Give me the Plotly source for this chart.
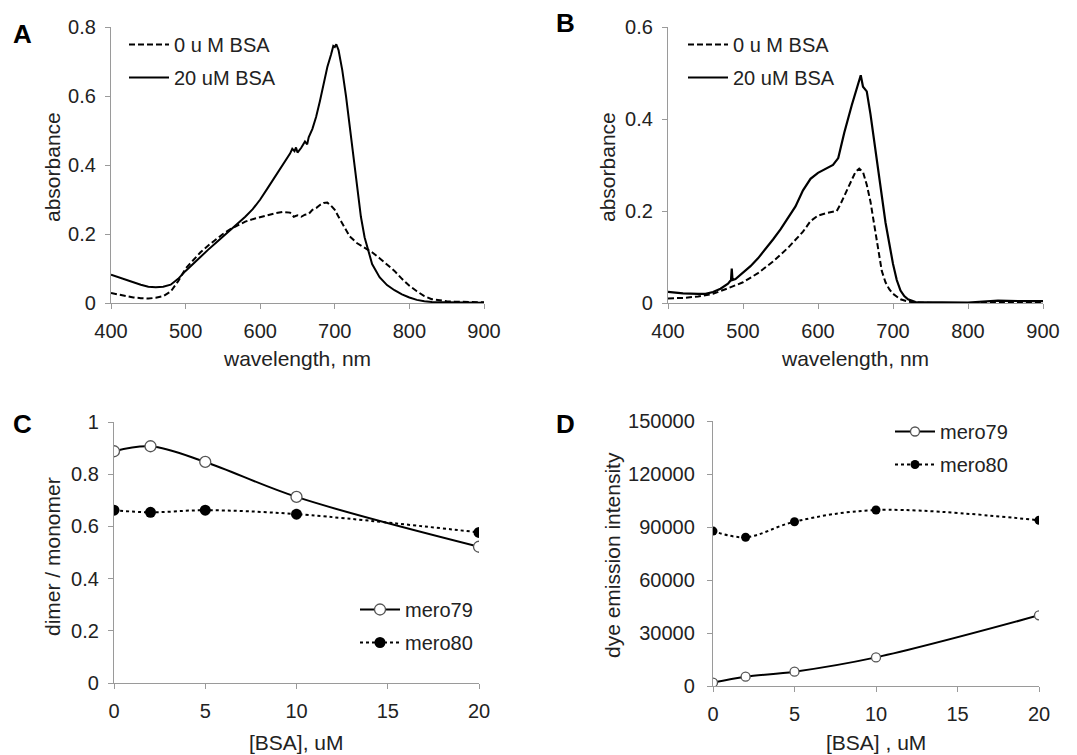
import plotly.graph_objects as go

# ---------------- Panel A data ----------------
a_wl_0 = [400,410,420,430,440,450,460,470,480,490,500,510,520,530,540,550,560,570,580,590,600,610,620,630,640,645,650,655,660,665,670,675,680,685,690,695,700,705,710,720,730,740,750,760,770,780,790,800,810,820,830,840,850,860,870,880,890,900]
a_abs_0 = [0.029,0.024,0.019,0.016,0.014,0.013,0.015,0.020,0.033,0.063,0.100,0.125,0.147,0.166,0.183,0.200,0.214,0.226,0.236,0.243,0.249,0.255,0.260,0.264,0.262,0.250,0.254,0.250,0.256,0.258,0.270,0.275,0.284,0.290,0.291,0.282,0.270,0.250,0.231,0.193,0.173,0.159,0.147,0.130,0.111,0.093,0.070,0.050,0.034,0.020,0.011,0.007,0.005,0.004,0.004,0.003,0.003,0.002]
a_wl_20 = [400,410,420,430,440,450,460,470,480,490,500,510,520,530,540,550,560,570,580,590,600,610,620,630,640,643,646,648,650,655,660,663,665,670,675,680,685,690,695,698,700,702,705,710,715,720,725,730,735,740,745,750,760,770,780,790,800,810,820,830,850,870,900]
a_abs_20 = [0.082,0.074,0.067,0.060,0.053,0.047,0.046,0.047,0.053,0.070,0.093,0.114,0.135,0.154,0.173,0.192,0.210,0.229,0.250,0.272,0.300,0.333,0.366,0.400,0.433,0.447,0.440,0.451,0.436,0.450,0.468,0.460,0.480,0.505,0.540,0.585,0.635,0.684,0.720,0.745,0.742,0.750,0.733,0.675,0.600,0.510,0.420,0.330,0.250,0.190,0.150,0.113,0.075,0.052,0.037,0.025,0.016,0.009,0.005,0.003,0.002,0.002,0.001]

# ---------------- Panel B data ----------------
b_wl_0 = [400,420,440,460,480,500,520,540,560,580,590,600,610,620,625,630,640,645,650,655,660,665,670,675,680,685,690,695,700,710,720,730,760,800,850,900]
b_abs_0 = [0.010,0.011,0.014,0.020,0.032,0.045,0.065,0.090,0.120,0.155,0.178,0.190,0.195,0.198,0.200,0.215,0.250,0.270,0.285,0.292,0.285,0.257,0.220,0.170,0.115,0.070,0.045,0.030,0.020,0.008,0.003,0.001,0.000,0.000,0.000,0.000]
b_wl_20 = [400,420,440,450,460,470,480,484,485,486,490,500,510,520,530,540,550,560,570,580,590,600,610,620,627,635,645,650,655,657,660,665,670,675,680,685,690,695,700,705,710,715,720,730,760,800,840,860,880,900]
b_abs_20 = [0.024,0.021,0.020,0.020,0.024,0.031,0.042,0.050,0.075,0.050,0.052,0.066,0.080,0.097,0.117,0.138,0.160,0.185,0.210,0.245,0.270,0.283,0.292,0.300,0.315,0.370,0.430,0.455,0.485,0.495,0.470,0.460,0.410,0.350,0.290,0.230,0.175,0.130,0.085,0.050,0.027,0.015,0.008,0.002,0.001,0.001,0.005,0.004,0.004,0.004]

# ---------------- Panel C data ----------------
bsa = [0, 2, 5, 10, 20]
c_mero79 = [0.888, 0.907, 0.847, 0.713, 0.522]
c_mero80 = [0.662, 0.654, 0.662, 0.647, 0.577]

# ---------------- Panel D data ----------------
d_mero79 = [1900, 5300, 8100, 16200, 40000]
d_mero80 = [87700, 84200, 93000, 99600, 93800]

W, H = 1077, 755
FONT = "Liberation Sans, Arial, sans-serif"
TXT = "#222222"
AX = "#9a9a9a"
DASH = "6px,3px"

def px_x(p):
    return p / W

def px_y(p):
    return (H - p) / H

fig = go.Figure()

# Panel A
fig.add_trace(go.Scatter(x=a_wl_0, y=a_abs_0, mode="lines", name="0 u M BSA",
                         line=dict(color="black", width=2, dash=DASH),
                         xaxis="x", yaxis="y", legend="legend", legendgroup="a0"))
fig.add_trace(go.Scatter(x=a_wl_20, y=a_abs_20, mode="lines", name="20 uM BSA",
                         line=dict(color="black", width=2),
                         xaxis="x", yaxis="y", legend="legend", legendgroup="a20"))
# Panel B
fig.add_trace(go.Scatter(x=b_wl_0, y=b_abs_0, mode="lines", name="0 u M BSA",
                         line=dict(color="black", width=2, dash=DASH),
                         xaxis="x2", yaxis="y2", legend="legend2", legendgroup="b0"))
fig.add_trace(go.Scatter(x=b_wl_20, y=b_abs_20, mode="lines", name="20 uM BSA",
                         line=dict(color="black", width=2.2),
                         xaxis="x2", yaxis="y2", legend="legend2", legendgroup="b20"))
# Panel C
fig.add_trace(go.Scatter(x=bsa, y=c_mero79, mode="lines+markers", name="mero79",
                         line=dict(color="black", width=2, shape="spline", smoothing=1),
                         marker=dict(symbol="circle", size=11, color="white",
                                     line=dict(color="#555555", width=1.3)),
                         xaxis="x3", yaxis="y3", legend="legend3", legendgroup="c79"))
fig.add_trace(go.Scatter(x=bsa, y=c_mero80, mode="lines+markers", name="mero80",
                         line=dict(color="black", width=2, dash="dot", shape="spline", smoothing=1),
                         marker=dict(symbol="circle", size=11, color="black"),
                         xaxis="x3", yaxis="y3", legend="legend3", legendgroup="c80"))
# Panel D
fig.add_trace(go.Scatter(x=bsa, y=d_mero79, mode="lines+markers", name="mero79",
                         line=dict(color="black", width=2, shape="spline", smoothing=1),
                         marker=dict(symbol="circle", size=9, color="white",
                                     line=dict(color="#555555", width=1.3)),
                         xaxis="x4", yaxis="y4", legend="legend4", legendgroup="d79"))
fig.add_trace(go.Scatter(x=bsa, y=d_mero80, mode="lines+markers", name="mero80",
                         line=dict(color="black", width=2, dash="dot", shape="spline", smoothing=1),
                         marker=dict(symbol="circle", size=9, color="black"),
                         xaxis="x4", yaxis="y4", legend="legend4", legendgroup="d80"))

def xax(domain, anchor, rng, dtick):
    return dict(domain=domain, anchor=anchor, range=rng, dtick=dtick, tick0=rng[0],
                showgrid=False, zeroline=False, showline=True, linecolor=AX, linewidth=1.3,
                ticks="outside", ticklen=5, tickcolor=AX, tickwidth=1.3,
                tickfont=dict(family=FONT, size=20, color=TXT), ticklabelstandoff=5,
                automargin=False, fixedrange=True)

def yax(domain, anchor, rng, dtick, fmt=None, standoff=5):
    d = dict(domain=domain, anchor=anchor, range=rng, dtick=dtick, tick0=0,
             showgrid=False, zeroline=False, showline=True, linecolor=AX, linewidth=1.3,
             ticks="outside", ticklen=5, tickcolor=AX, tickwidth=1.3,
             tickfont=dict(family=FONT, size=20, color=TXT), ticklabelstandoff=standoff,
             automargin=False, fixedrange=True)
    if fmt:
        d["tickformat"] = fmt
    return d

yA = [px_y(303), px_y(27)]
yC = [px_y(683), px_y(422)]
yD = [px_y(686), px_y(421)]

legfont = dict(family=FONT, size=20, color=TXT)

def leg(x, y):
    return dict(x=px_x(x), y=px_y(y), xanchor="left", yanchor="top",
                font=legfont, bgcolor="rgba(0,0,0,0)", itemwidth=40,
                tracegroupgap=4)

fig.update_layout(
    width=W, height=H,
    autosize=False,
    margin=dict(l=0, r=0, t=0, b=0, pad=0, autoexpand=False),
    paper_bgcolor="white", plot_bgcolor="white",
    showlegend=True,
    xaxis=xax([px_x(111), px_x(484)], "y", [400, 900], 100),
    yaxis=yax(yA, "x", [0, 0.8], 0.2),
    xaxis2=xax([px_x(668), px_x(1043)], "y2", [400, 900], 100),
    yaxis2=yax(yA, "x2", [0, 0.6], 0.2),
    xaxis3=xax([px_x(114), px_x(479)], "y3", [0, 20], 5),
    yaxis3=yax(yC, "x3", [0, 1], 0.2),
    xaxis4=xax([px_x(713), px_x(1039)], "y4", [0, 20], 5),
    yaxis4=yax(yD, "x4", [0, 150000], 30000, fmt="d", standoff=8),
    legend=leg(124, 25),
    legend2=leg(683, 25),
    legend3=leg(355, 590),
    legend4=leg(890, 412),
)

title_font = dict(family=FONT, size=21, color=TXT)
annotations = []
for text, x, y in [("wavelength, nm", 297, 358), ("wavelength, nm", 855, 358),
                   ("[BSA], uM", 296, 742), ("[BSA] , uM", 876, 742)]:
    annotations.append(dict(text=text, x=px_x(x), y=px_y(y), xref="paper", yref="paper",
                            xanchor="center", yanchor="middle", showarrow=False, font=title_font))
# y titles (rotated)
for text, x, y in [("absorbance", 52, 167), ("absorbance", 607, 167),
                   ("dimer / monomer", 52, 557), ("dye emission intensity", 612, 555)]:
    annotations.append(dict(text=text, x=px_x(x), y=px_y(y), xref="paper", yref="paper",
                            xanchor="center", yanchor="middle", showarrow=False,
                            textangle=-90, font=title_font))
# panel letters
for text, x, y in [("A", 22, 34), ("B", 565, 23), ("C", 22, 424), ("D", 565, 424)]:
    annotations.append(dict(text="<b>" + text + "</b>", x=px_x(x), y=px_y(y), xref="paper", yref="paper",
                            xanchor="center", yanchor="middle", showarrow=False,
                            font=dict(family=FONT, size=26, color="black")))
fig.update_layout(annotations=annotations)

fig.write_html("out.html")
